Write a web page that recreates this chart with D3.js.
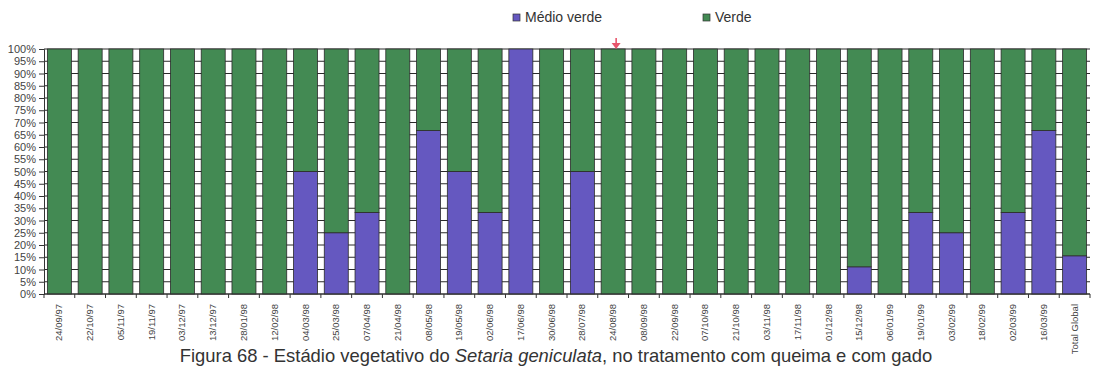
<!DOCTYPE html>
<html>
<head>
<meta charset="utf-8">
<script src="https://cdn.jsdelivr.net/npm/d3@7"></script>
<style>
  body { margin: 0; background: #fff; }
  svg { display: block; font-family: "Liberation Sans", Arial, sans-serif; }
</style>
</head>
<body>
<div id="chart"></div>
<script>
// categories (sampling dates) and share of "Médio verde" in %
var dates = ["24/09/97", "22/10/97", "05/11/97", "19/11/97", "03/12/97", "13/12/97",
  "28/01/98", "12/02/98", "04/03/98", "25/03/98", "07/04/98", "21/04/98", "08/05/98",
  "19/05/98", "02/06/98", "17/06/98", "30/06/98", "28/07/98", "24/08/98", "08/09/98",
  "22/09/98", "07/10/98", "21/10/98", "03/11/98", "17/11/98", "01/12/98", "15/12/98",
  "06/01/99", "19/01/99", "03/02/99", "18/02/99", "02/03/99", "16/03/99", "Total Global"];
var medioVerde = [0, 0, 0, 0, 0, 0, 0, 0, 50, 25, 33.3, 0, 66.7, 50, 33.3, 100, 0, 50, 0, 0,
  0, 0, 0, 0, 0, 0, 11.1, 0, 33.3, 25, 0, 33.3, 66.7, 15.6];
var verde = medioVerde.map(function (v) { return 100 - v; });
var seriesNames = ["Médio verde", "Verde"];
var yTicks = d3.range(0, 101, 5);
var markedDate = "24/08/98"; // red arrow above this bar

var width = 1098, height = 370;
var colors = { "Médio verde": "#6558c0", "Verde": "#438a53" };

var svg = d3.select("#chart").append("svg")
  .attr("width", width)
  .attr("height", height);

var x = d3.scaleBand().domain(dates).range([44, 1090]).paddingInner(0.22).paddingOuter(0.11);
var y = d3.scaleLinear().domain([0, 100]).range([294, 49]);

// gridlines every 5% (only visible in the gaps between bars)
svg.append("g")
  .selectAll("line")
  .data(yTicks)
  .enter().append("line")
  .attr("x1", 44).attr("x2", 1090)
  .attr("y1", function (d) { return y(d); })
  .attr("y2", function (d) { return y(d); })
  .attr("stroke", "#2a2a2a")
  .attr("stroke-width", 1);

// stacked bars
var rows = dates.map(function (d, i) {
  return { date: d, "Médio verde": medioVerde[i], "Verde": verde[i] };
});
var stack = d3.stack().keys(seriesNames)(rows);

svg.append("g")
  .selectAll("g")
  .data(stack)
  .enter().append("g")
  .attr("fill", function (s) { return colors[s.key]; })
  .selectAll("rect")
  .data(function (s) { return s.filter(function (p) { return p[1] - p[0] > 0; }); })
  .enter().append("rect")
  .attr("x", function (p) { return x(p.data.date); })
  .attr("width", x.bandwidth())
  .attr("y", function (p) { return y(p[1]); })
  .attr("height", function (p) { return y(p[0]) - y(p[1]); })
  .attr("stroke", "#2b2b2b")
  .attr("stroke-width", 0.8);

// y axis
var yAxis = svg.append("g")
  .attr("transform", "translate(44,0)")
  .call(d3.axisLeft(y).tickValues(yTicks).tickSize(5).tickPadding(3)
    .tickFormat(function (d) { return d + "%"; }));
yAxis.selectAll("text").attr("font-size", "11px").attr("fill", "#444")
  .style("font-family", "'Liberation Sans', Arial, sans-serif");
yAxis.selectAll("line, path").attr("stroke", "#333");

// x axis: ticks at band boundaries, rotated labels
var xg = svg.append("g").attr("transform", "translate(0,294)");
xg.append("line").attr("x1", 44).attr("x2", 1090).attr("stroke", "#333");
xg.selectAll(".tk")
  .data(dates)
  .enter().append("line")
  .attr("x1", function (d) { return x(d) - x.step() * x.paddingInner() / 2; })
  .attr("x2", function (d) { return x(d) - x.step() * x.paddingInner() / 2; })
  .attr("y1", 0).attr("y2", 4)
  .attr("stroke", "#333");
xg.append("line").attr("x1", 1090).attr("x2", 1090).attr("y1", 0).attr("y2", 4).attr("stroke", "#333");
xg.selectAll(".lbl")
  .data(dates)
  .enter().append("text")
  .attr("transform", function (d) {
    return "translate(" + (x(d) + x.bandwidth() / 2 + 3) + ",10) rotate(-90)";
  })
  .attr("text-anchor", "end")
  .attr("font-size", "9.5px")
  .attr("fill", "#444")
  .text(function (d) { return d; });

// legend
var legend = svg.append("g");
var legendX = [513, 703];
seriesNames.forEach(function (name, i) {
  legend.append("rect")
    .attr("x", legendX[i]).attr("y", 14)
    .attr("width", 7).attr("height", 7)
    .attr("fill", colors[name])
    .attr("stroke", "#333").attr("stroke-width", 0.7);
  legend.append("text")
    .attr("x", legendX[i] + 12).attr("y", 22)
    .attr("font-size", "14px")
    .attr("fill", "#333")
    .text(name);
});

// red marker arrow
var ax = x(markedDate) + x.bandwidth() / 2 + 3;
svg.append("line")
  .attr("x1", ax).attr("x2", ax).attr("y1", 38).attr("y2", 45)
  .attr("stroke", "#e8566c").attr("stroke-width", 1.6);
svg.append("path")
  .attr("d", "M" + (ax - 4.5) + ",43 L" + (ax + 4.5) + ",43 L" + ax + ",49 Z")
  .attr("fill", "#e8566c");

// caption
var cap = svg.append("text")
  .attr("x", 556).attr("y", 362)
  .attr("text-anchor", "middle")
  .attr("font-size", "18.4px")
  .attr("fill", "#333");
cap.append("tspan").text("Figura 68 - Estádio vegetativo do ");
cap.append("tspan").attr("font-style", "italic").text("Setaria geniculata");
cap.append("tspan").text(", no tratamento com queima e com gado");
</script>
</body>
</html>
